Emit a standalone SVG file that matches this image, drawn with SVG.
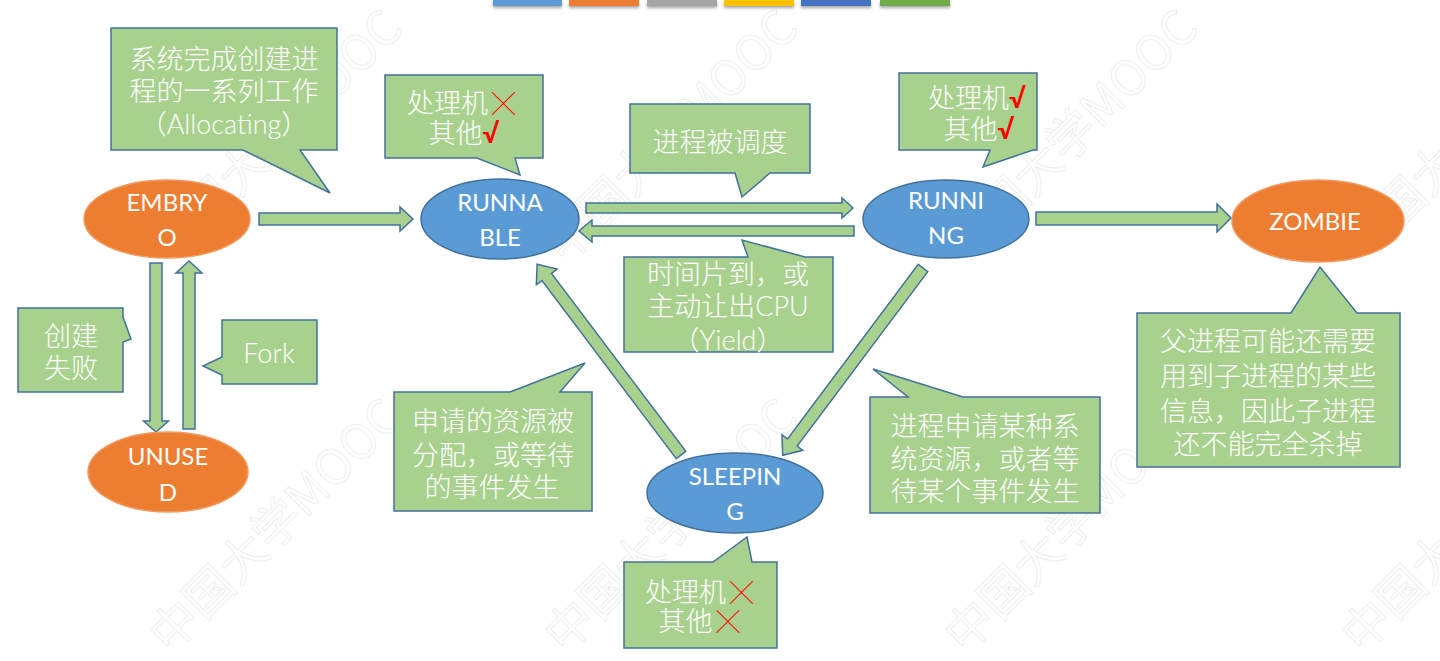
<svg xmlns="http://www.w3.org/2000/svg" width="1440" height="661" viewBox="0 0 1440 661">
<defs>
<filter id="sh" x="-10%" y="-50%" width="120%" height="250%"><feDropShadow dx="0" dy="2" stdDeviation="1.5" flood-color="#000" flood-opacity="0.35"/></filter>
</defs>
<style>
.bg{fill:#ffffff}
.call{fill:#A9D18E;stroke:#41719C;stroke-width:1.5;stroke-linejoin:miter}
.arr{fill:#A9D18E;stroke:#41719C;stroke-width:1.5;stroke-linejoin:miter}
.orange{fill:#ED7D31;stroke:#F19A5F;stroke-width:1.5}
.blue{fill:#5B9BD5;stroke:#41719C;stroke-width:1.5}
.nt{font-family:Lato,"Noto Sans CJK SC",sans-serif;font-size:24px;fill:#ffffff;text-anchor:middle;dominant-baseline:central}
.ct{font-family:Lato,"Noto Sans CJK SC",sans-serif;font-size:27px;font-weight:300;fill:#ffffff;text-anchor:middle;dominant-baseline:central}
.red{fill:#FF0000;font-family:"Noto Sans CJK SC",sans-serif;font-size:23px;font-weight:300}
.redb{fill:#FF0000;font-weight:bold}
.wm{font-family:"Noto Sans CJK SC",sans-serif;font-size:48px;fill:none;stroke:#C8C8C8;stroke-width:1;opacity:0.3}
</style>
<rect class="bg" x="0" y="0" width="1440" height="661"/>

<g id="watermark">
<text class="wm" transform="translate(170,266) rotate(-45)">中国大学MOOC</text>
<text class="wm" transform="translate(565,266) rotate(-45)">中国大学MOOC</text>
<text class="wm" transform="translate(965,266) rotate(-45)">中国大学MOOC</text>
<text class="wm" transform="translate(1362,266) rotate(-45)">中国大学MOOC</text>
<text class="wm" transform="translate(170,655) rotate(-45)">中国大学MOOC</text>
<text class="wm" transform="translate(565,655) rotate(-45)">中国大学MOOC</text>
<text class="wm" transform="translate(965,655) rotate(-45)">中国大学MOOC</text>
<text class="wm" transform="translate(1362,655) rotate(-45)">中国大学MOOC</text>
</g>

<g id="topbar" filter="url(#sh)">
<rect x="493" y="0" width="69" height="6" fill="#5B9BD5"/>
<rect x="569" y="0" width="70" height="6" fill="#ED7D31"/>
<rect x="647" y="0" width="70" height="6" fill="#A5A5A5"/>
<rect x="724" y="0" width="70" height="6" fill="#FFC000"/>
<rect x="801" y="0" width="70" height="6" fill="#4472C4"/>
<rect x="880" y="0" width="70" height="6" fill="#70AD47"/>
</g>

<g id="connectors">
<polygon class="arr" points="259,213 400,213 400,207 413,219 400,231 400,225 259,225"/>
<polygon class="arr" points="586,203 842,203 842,198 853,208 842,218 842,213 586,213"/>
<polygon class="arr" points="854,226 592,226 592,220 579,231 592,242 592,236 854,236"/>
<polygon class="arr" points="1036,212 1217,212 1217,204 1231,218 1217,232 1217,225 1036,225"/>
<polygon class="arr" points="150,263 162,263 162,421 168.5,421 156,432 143.5,421 150,421"/>
<polygon class="arr" points="183,429 183,273 176,273 189,261 202,273 195,273 195,429"/>
<polygon class="arr" transform="translate(681,455) rotate(232.98)" points="0,-6 223,-6 223,-13 239,0 223,13 223,6 0,6"/>
<polygon class="arr" transform="translate(923,268) rotate(126.82)" points="0,-6 218,-6 218,-13 234,0 218,13 218,6 0,6"/>
</g>

<g id="embryo">
<ellipse class="orange" cx="167" cy="219" rx="83" ry="39"/>
<text class="nt" x="167" y="201">EMBRY</text>
<text class="nt" x="167" y="236">O</text>
</g>
<g id="unused">
<ellipse class="orange" cx="168" cy="472" rx="80" ry="40"/>
<text class="nt" x="168" y="455">UNUSE</text>
<text class="nt" x="168" y="491">D</text>
</g>
<g id="runnable">
<ellipse class="blue" cx="500" cy="219" rx="79" ry="40"/>
<text class="nt" x="500" y="201">RUNNA</text>
<text class="nt" x="500" y="236">BLE</text>
</g>
<g id="running">
<ellipse class="blue" cx="946" cy="219" rx="83" ry="39"/>
<text class="nt" x="946" y="199">RUNNI</text>
<text class="nt" x="946" y="234">NG</text>
</g>
<g id="zombie">
<ellipse class="orange" cx="1318" cy="221" rx="86" ry="41"/>
<text class="nt" x="1315" y="220">ZOMBIE</text>
</g>
<g id="sleeping">
<ellipse class="blue" cx="735" cy="493" rx="88" ry="40"/>
<text class="nt" x="735" y="475">SLEEPIN</text>
<text class="nt" x="735" y="510">G</text>
</g>

<g id="note-allocating">
<path class="call" d="M111,28 H337 V150 H300 L330,193 L243,150 H111 Z"/>
<text class="ct" x="224" y="58">系统完成创建进</text>
<text class="ct" x="224" y="90">程的一系列工作</text>
<text class="ct" x="224" y="123">（Allocating）</text>
</g>
<g id="note-runnable">
<path class="call" d="M385,75 H543 V158 H515 L520,175 L477,158 H385 Z"/>
<text class="ct" x="461" y="102">处理机<tspan class="red" dx="4">╳</tspan></text>
<text class="ct" x="464" y="132">其他<tspan class="redb">√</tspan></text>
</g>
<g id="note-running">
<path class="call" d="M899,73 H1037 V150 H1033 L983,167 L990,150 H899 Z"/>
<text class="ct" x="977" y="97">处理机<tspan class="redb">√</tspan></text>
<text class="ct" x="979" y="128">其他<tspan class="redb">√</tspan></text>
</g>
<g id="note-dispatch">
<path class="call" d="M630,104 H810 V173 H770 L742,197 L735,173 H630 Z"/>
<text class="ct" x="720" y="141">进程被调度</text>
</g>
<g id="note-yield">
<path class="call" d="M624,257 H748 L742,240 L805,257 H833 V352 H624 Z"/>
<text class="ct" x="728" y="273">时间片到，或</text>
<text class="ct" x="728" y="305">主动让出CPU</text>
<text class="ct" x="728" y="339">（Yield）</text>
</g>
<g id="note-fail">
<path class="call" d="M18,308 H123 V317 L131,339 L123,342 V392 H18 Z"/>
<text class="ct" x="71" y="335">创建</text>
<text class="ct" x="71" y="367">失败</text>
</g>
<g id="note-fork">
<path class="call" d="M222,320 H317 V384 H222 V375 L203,366 L222,357 Z"/>
<text class="ct" x="269" y="352">Fork</text>
</g>
<g id="note-wakeup">
<path class="call" d="M394,392 H510 L585,363 L560,392 H592 V511 H394 Z"/>
<text class="ct" x="493" y="420">申请的资源被</text>
<text class="ct" x="493" y="454">分配，或等待</text>
<text class="ct" x="492" y="486">的事件发生</text>
</g>
<g id="note-wait">
<path class="call" d="M870,397 H908 L873,369 L963,397 H1100 V513 H870 Z"/>
<text class="ct" x="985" y="425">进程申请某种系</text>
<text class="ct" x="985" y="458">统资源，或者等</text>
<text class="ct" x="985" y="490">待某个事件发生</text>
</g>
<g id="note-zombie">
<path class="call" d="M1137,313 H1291 L1320,267 L1357,313 H1400 V467 H1137 Z"/>
<text class="ct" x="1268" y="340">父进程可能还需要</text>
<text class="ct" x="1268" y="375">用到子进程的某些</text>
<text class="ct" x="1268" y="410">信息，因此子进程</text>
<text class="ct" x="1268" y="443">还不能完全杀掉</text>
</g>
<g id="note-sleeping">
<path class="call" d="M624,562 H713 L747,537 L752,562 H777 V648 H624 Z"/>
<text class="ct" x="699" y="591">处理机<tspan class="red" dx="4">╳</tspan></text>
<text class="ct" x="699" y="620">其他<tspan class="red" dx="4">╳</tspan></text>
</g>
</svg>
